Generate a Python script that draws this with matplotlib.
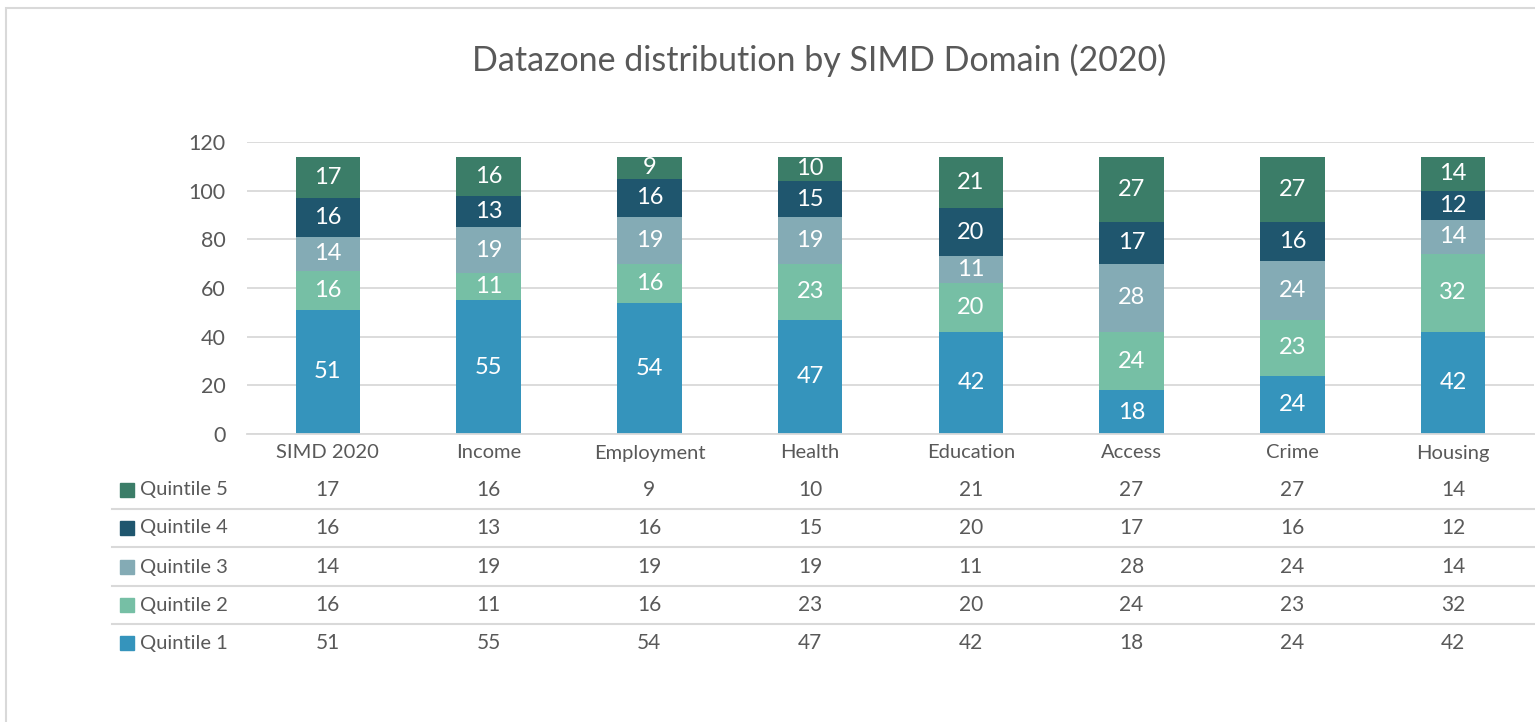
import matplotlib.pyplot as plt
from matplotlib.lines import Line2D
from matplotlib.patches import Rectangle
from matplotlib.transforms import blended_transform_factory

plt.rcParams['font.family'] = ['Lato', 'DejaVu Sans']

categories = ['SIMD 2020', 'Income', 'Employment', 'Health', 'Education',
              'Access', 'Crime', 'Housing']
quintile_1 = [51, 55, 54, 47, 42, 18, 24, 42]
quintile_2 = [16, 11, 16, 23, 20, 24, 23, 32]
quintile_3 = [14, 19, 19, 19, 11, 28, 24, 14]
quintile_4 = [16, 13, 16, 15, 20, 17, 16, 12]
quintile_5 = [17, 16, 9, 10, 21, 27, 27, 14]

series = [
    ('Quintile 1', quintile_1, '#3594BC'),
    ('Quintile 2', quintile_2, '#76BFA5'),
    ('Quintile 3', quintile_3, '#84ABB5'),
    ('Quintile 4', quintile_4, '#1F566E'),
    ('Quintile 5', quintile_5, '#3B7D68'),
]

W, H = 1535, 722
text_col = '#595959'
grid_col = '#D9D9D9'

fig = plt.figure(figsize=(W / 100, H / 100), dpi=100)


def fx(px):
    return px / W


def fy(py):
    return 1 - py / H


# outer chart frame
fig.patches.append(Rectangle((fx(5.5), fy(760)), fx(1600), fy(8) - fy(760),
                             transform=fig.transFigure, fill=False,
                             edgecolor=grid_col, lw=1.5))

ax = fig.add_axes([fx(247.5), fy(434), fx(1533.5 - 247.5), fy(142) - fy(434)])
ax.set_xlim(-0.5, len(categories) - 0.5)
ax.set_ylim(0, 120)
ax.set_yticks(range(0, 121, 20))
ax.yaxis.grid(True, color=grid_col, lw=1.3)
ax.set_axisbelow(True)
for s in ax.spines.values():
    s.set_visible(False)
ax.tick_params(axis='y', length=0, labelsize=15.5, labelcolor=text_col, pad=16)
ax.set_xticks([])
ax.axhline(0, color=grid_col, lw=1.3, clip_on=False, xmax=1.02)

x = range(len(categories))
bottom = [0] * len(categories)
for name, vals, col in series:
    bars = ax.bar(x, vals, 0.4, bottom=bottom, color=col, label=name)
    for b, v, b0 in zip(bars, vals, bottom):
        ax.text(b.get_x() + b.get_width() / 2, b0 + v / 2, str(v),
                ha='center', va='center', color='white', fontsize=17)
    bottom = [a + v for a, v in zip(bottom, vals)]

fig.text(fx(819), fy(60), 'Datazone distribution by SIMD Domain (2020)',
         ha='center', va='center', fontsize=24.5, color=text_col)

# data table under the axis
tr = blended_transform_factory(ax.transData, fig.transFigure)
for i, c in enumerate(categories):
    ax.text(i, fy(453), c, transform=tr, ha='center', va='center',
            fontsize=14.5, color=text_col)

row_y = {'Quintile 5': 490, 'Quintile 4': 528, 'Quintile 3': 567,
         'Quintile 2': 605, 'Quintile 1': 643}
for name, vals, col in series:
    yy = row_y[name]
    for i, v in enumerate(vals):
        ax.text(i, fy(yy), str(v), transform=tr, ha='center', va='center',
                fontsize=15, color=text_col)
    fig.patches.append(Rectangle((fx(120), fy(yy + 7)), fx(14), fy(yy - 7) - fy(yy + 7),
                                 transform=fig.transFigure, color=col))
    fig.text(fx(140), fy(yy), name, ha='left', va='center',
             fontsize=14.5, color=text_col)

for yy in [509, 547, 586, 624]:
    fig.lines.append(Line2D([fx(112), 1], [fy(yy), fy(yy)],
                            transform=fig.transFigure, color=grid_col, lw=1.5))

fig.savefig('out.png', dpi=100)
